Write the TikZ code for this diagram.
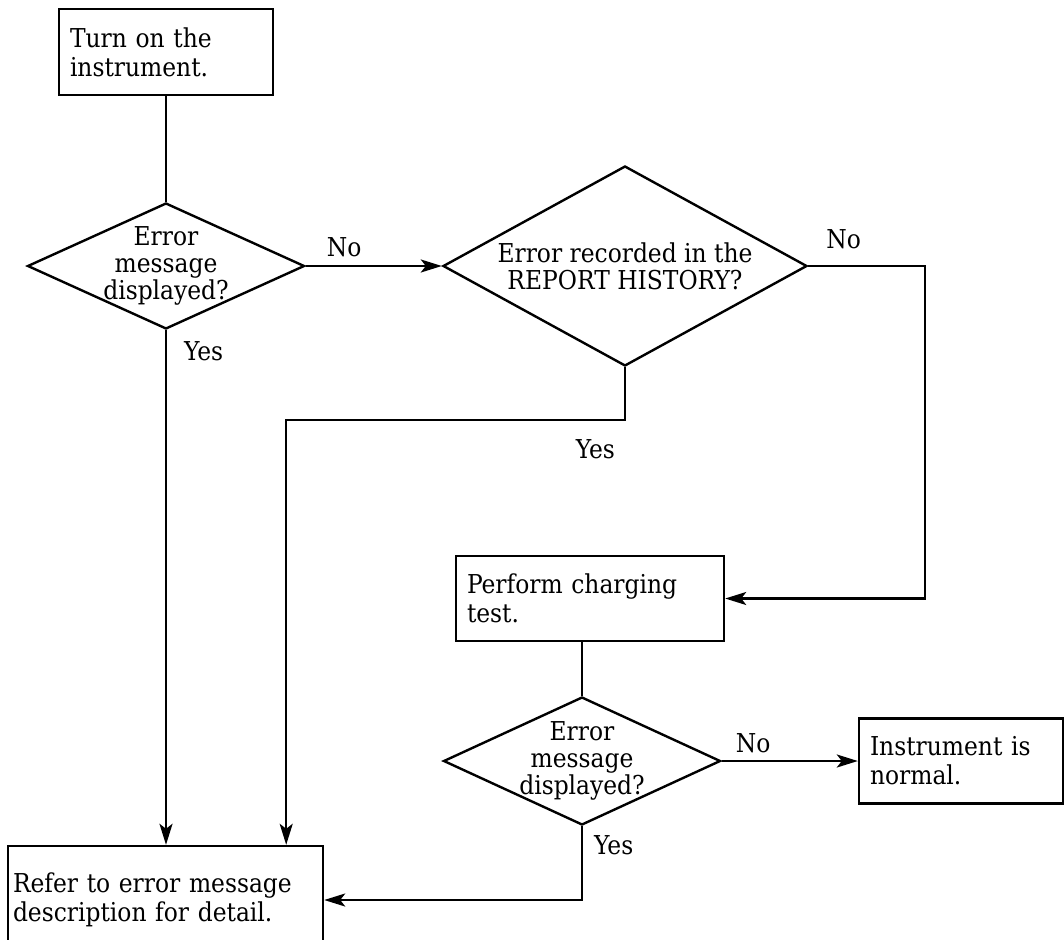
\documentclass[tikz,border=0pt]{standalone}
\usepackage{fontspec}
\setmainfont{DejaVu Serif Condensed}
\usepackage{tikz}
\usetikzlibrary{arrows.meta,shapes.geometric,positioning}
\tikzstyle{arrow} = [line width=2.4pt,-{Stealth[length=21pt,width=13pt,inset=5pt]}]
\tikzstyle{line} = [line width=2.4pt]
\tikzstyle{box} = [draw, line width=2.4pt, rectangle, align=left, inner xsep=11pt, inner ysep=0pt, font=\fontsize{26}{29}\selectfont]
\tikzstyle{decision} = [draw, line width=2.4pt, diamond, inner sep=0pt]
\tikzstyle{txt} = [align=center, inner sep=0pt, font=\fontsize{26}{27}\selectfont]
\tikzstyle{lbl} = [inner sep=0pt, font=\fontsize{26}{29}\selectfont]

\begin{document}
\begin{tikzpicture}[x=1pt,y=-1pt]
    \useasboundingbox (0,0) rectangle (1064,939);
    \clip (0,0) rectangle (1064,939);

    % steps and decisions
    \node (turnon) [box, text width=192pt, minimum height=86pt] at (166,52) {Turn on the\\instrument.};
    \node (err1)   [decision, minimum width=277pt, minimum height=126pt,
                    label={[txt]center:Error\\message\\displayed?}] at (166,266) {};
    \node (hist)   [decision, minimum width=364pt, minimum height=200pt,
                    label={[txt]center:Error recorded in the\\REPORT HISTORY?}] at (625,266) {};
    \node (charge) [box, text width=246pt, minimum height=85pt] at (590,598.5) {Perform charging\\test.};
    \node (err2)   [decision, minimum width=277pt, minimum height=128pt,
                    label={[txt]center:Error\\message\\displayed?}] at (582,761) {};
    \node (normal) [box, text width=182pt, minimum height=85pt] at (961,761) {Instrument is\\normal.};
    \node (refer)  [box, inner xsep=5pt, text width=305pt, minimum height=108pt] at (165.5,900) {Refer to error message\\description for detail.};

    % connectors
    \draw [line]  (turnon) -- (err1);
    \draw [arrow] (err1.east) node (no1) [lbl, above right=8pt and 20pt] {No} -- (hist.west);
    \draw [arrow] (err1.south) node (yes1) [lbl, below right=10pt and 17pt] {Yes} -- (err1.south |- refer.north);
    \draw [arrow] (hist.east) node (no2) [lbl, above right=16pt and 17pt] {No} -- ++(117,0) |- (charge.east);
    \draw [arrow] (hist.south) -- ++(0,53) node (yes2) [lbl, below left=18pt and 9pt] {Yes} -| ([xshift=-38pt]refer.north east);
    \draw [line]  (charge.south -| err2.north) -- (err2.north);
    \draw [arrow] (err2.east) node (no3) [lbl, above right=7pt and 13pt] {No} -- (normal.west);
    \draw [arrow] (err2.south) node (yes3) [lbl, below right=8pt and 11pt] {Yes} |- (refer.east);
\end{tikzpicture}
\end{document}
